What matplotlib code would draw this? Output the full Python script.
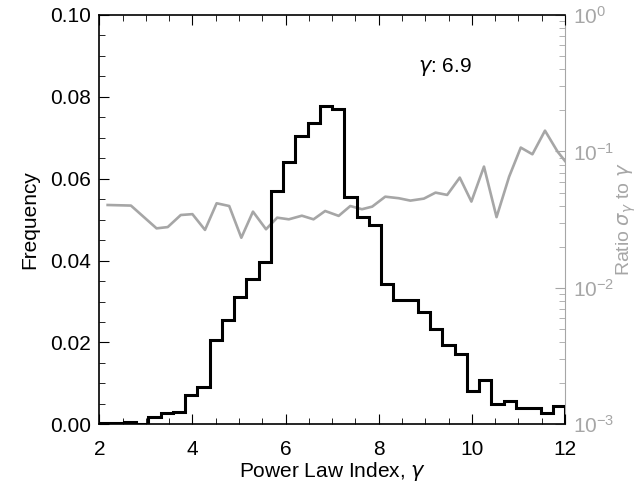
import numpy as np
import matplotlib.pyplot as plt
from matplotlib.ticker import MultipleLocator, LogLocator, NullFormatter

plt.rcParams['font.family'] = ['Liberation Sans', 'DejaVu Sans']

# histogram of power law index (38 bins between 2 and 12)
bin_lo, bin_hi, n_bins = 2.0, 12.0, 38
freq = [0.0002, 0.0004, 0.0006, 0.0001, 0.0018, 0.0027, 0.0030, 0.0072,
        0.0091, 0.0207, 0.0255, 0.0311, 0.0354, 0.0396, 0.0570, 0.0642,
        0.0705, 0.0735, 0.0778, 0.0770, 0.0556, 0.0506, 0.0487, 0.0342,
        0.0304, 0.0304, 0.0275, 0.0233, 0.0194, 0.0171, 0.0082, 0.0108,
        0.0050, 0.0057, 0.0041, 0.0041, 0.0027, 0.0045]

# ratio sigma_gamma / gamma
ratio_x = [2.18, 2.68, 3.23, 3.47, 3.75, 4.00, 4.27, 4.52, 4.79, 5.05,
           5.30, 5.58, 5.82, 6.07, 6.35, 6.60, 6.85, 7.14, 7.39, 7.64,
           7.86, 8.14, 8.43, 8.68, 8.97, 9.22, 9.47, 9.74, 9.99, 10.26,
           10.53, 10.80, 11.05, 11.30, 11.57, 11.84, 12.0]
ratio = [0.0405, 0.0401, 0.0273, 0.0279, 0.0342, 0.0347, 0.0266, 0.0417,
         0.0398, 0.0233, 0.0362, 0.0269, 0.0327, 0.0318, 0.0338, 0.0318,
         0.0366, 0.0337, 0.0398, 0.0377, 0.0394, 0.0466, 0.0454, 0.0436,
         0.0451, 0.0499, 0.0480, 0.0643, 0.0429, 0.0774, 0.0330, 0.0653,
         0.1067, 0.0953, 0.1420, 0.0997, 0.0851]

gray = '#a6a6a6'
edges = np.linspace(bin_lo, bin_hi, n_bins + 1)

fig = plt.figure(figsize=(6.38, 4.88), dpi=100)
ax = fig.add_axes([0.1556, 0.1305, 0.7300, 0.8388])
ax2 = ax.twinx()

ax2.plot(ratio_x, ratio, color=gray, lw=1.9, zorder=1)
ax2.set_yscale('log')
ax2.set_ylim(1e-3, 1)
ax2.set_ylabel(r'Ratio $\sigma_\gamma$ to $\gamma$', color=gray, fontsize=14)
ax2.yaxis.set_label_coords(1.106, 0.5)
ax2.yaxis.set_major_locator(LogLocator(base=10, numticks=10))
ax2.yaxis.set_minor_locator(LogLocator(base=10, subs=np.arange(2, 10), numticks=10))
ax2.yaxis.set_minor_formatter(NullFormatter())
ax2.tick_params(axis='y', which='both', direction='in', colors=gray, labelsize=15, pad=6)
ax2.tick_params(axis='y', which='major', length=7)
ax2.tick_params(axis='y', which='minor', length=4)
ax2.spines['right'].set_color(gray)
for s in ['left', 'top', 'bottom']:
    ax2.spines[s].set_visible(False)

ax.set_zorder(ax2.get_zorder() + 1)
ax.patch.set_visible(False)
ax.stairs(freq, edges, color='black', lw=2.2, baseline=0)
ax.set_xlim(2, 12)
ax.set_ylim(0, 0.1)
ax.spines['right'].set_visible(False)
for s in ['left', 'top', 'bottom']:
    ax.spines[s].set_linewidth(1.2)
ax.xaxis.set_major_locator(MultipleLocator(2))
ax.xaxis.set_minor_locator(MultipleLocator(0.5))
ax.yaxis.set_major_locator(MultipleLocator(0.02))
ax.yaxis.set_minor_locator(MultipleLocator(0.005))
ax.yaxis.set_major_formatter(lambda v, p: f'{v:.2f}')
ax.tick_params(which='both', direction='in', top=True, labelsize=15)
ax.tick_params(axis='x', which='both', pad=11)
ax.tick_params(axis='y', which='both', pad=6)
ax.tick_params(which='major', length=7)
ax.tick_params(which='minor', length=4)
ax.set_xlabel(r'Power Law Index, $\gamma$', fontsize=15, labelpad=1)
ax.set_ylabel('Frequency', fontsize=15, labelpad=8)
ax.text(8.85, 0.086, r'$\gamma$: 6.9', fontsize=15)

fig.savefig('out.png', dpi=100)
